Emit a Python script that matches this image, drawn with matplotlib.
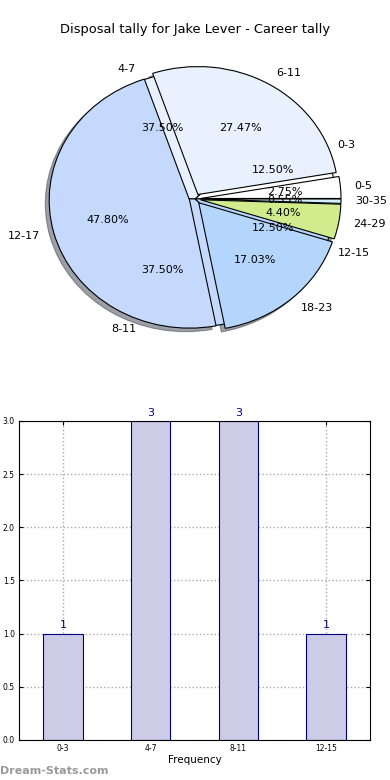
import matplotlib
matplotlib.use("Agg")
import matplotlib.pyplot as plt

title = "Disposal tally for Jake Lever - Career tally"

# Career disposal bins (pie drawn on top)
career_labels = ["0-5", "6-11", "12-17", "18-23", "24-29", "30-35"]
career_counts = [5, 50, 87, 31, 8, 1]

# Frequency bins (pie drawn underneath, and bar chart)
freq_labels = ["0-3", "4-7", "8-11", "12-15"]
freq_counts = [1, 3, 3, 1]

pie_colors = ["#ffffff", "#e9f1fe", "#c5d9fc", "#b4d5fc", "#d0ec8c", "#d2f1fc"]

fig = plt.figure(figsize=(3.9, 7.8), dpi=100)

# ---- Pie chart ----
ax1 = fig.add_axes([0.05, 0.54, 0.9, 0.41])
wp = dict(edgecolor="black", linewidth=0.8)
ax1.pie(freq_counts, labels=freq_labels, colors=pie_colors[:len(freq_counts)],
        autopct="%1.2f%%", startangle=0, wedgeprops=wp,
        textprops=dict(fontsize=8))
ax1.pie(career_counts, labels=career_labels, colors=pie_colors,
        autopct="%1.2f%%", startangle=0, explode=[0.04] * len(career_counts),
        shadow=True, wedgeprops=wp, textprops=dict(fontsize=8))
ax1.set_aspect("auto")
ax1.set_xlim(-1.25, 1.25)
ax1.set_ylim(-1.25, 1.25)
ax1.set_title(title, fontsize=9.4, pad=4)

# ---- Bar chart ----
ax2 = fig.add_axes([0.049, 0.0513, 0.9, 0.409])
x = list(range(len(freq_labels)))
bars = ax2.bar(x, freq_counts, width=0.45, color="#ccccE6", edgecolor="#000080",
               linewidth=0.8, zorder=2)
for xi, v in zip(x, freq_counts):
    ax2.text(xi, v + 0.03, str(v), ha="center", va="bottom", color="#000080", fontsize=8)
ax2.set_xlim(-0.5, len(freq_labels) - 0.5)
ax2.set_ylim(0, 3.0)
ax2.set_yticks([0.0, 0.5, 1.0, 1.5, 2.0, 2.5, 3.0])
ax2.set_yticklabels(["0.0", "0.5", "1.0", "1.5", "2.0", "2.5", "3.0"])
ax2.set_xticks(x)
ax2.set_xticklabels(freq_labels)
ax2.tick_params(labelsize=5.5, direction="in", top=True, right=True, length=3, pad=3)
ax2.grid(True, linestyle=":", color="#aaaaaa", linewidth=1.0, zorder=0)
ax2.set_axisbelow(True)
ax2.set_xlabel("Frequency", fontsize=7.5, labelpad=1)

fig.text(0.0, 0.005, "Dream-Stats.com", fontsize=8, color="#999999",
         fontweight="bold", ha="left", va="bottom")

fig.savefig("out.png", dpi=100)
